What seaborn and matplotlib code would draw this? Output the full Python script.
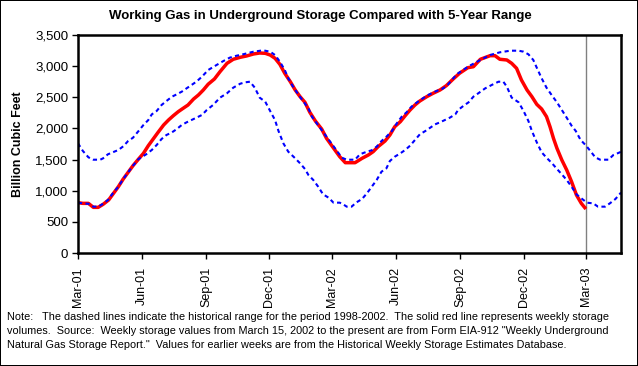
import pandas as pd
import matplotlib
matplotlib.use("Agg")
import matplotlib.pyplot as plt
import matplotlib.dates as mdates
import seaborn as sns

# --- Data (Bcf) ---
upper_dates = ["2001-03-01", "2001-03-08", "2001-03-16", "2001-03-23", "2001-04-02", "2001-04-06",
               "2001-04-13", "2001-04-20", "2001-04-28", "2001-05-05", "2001-05-12", "2001-05-19",
               "2001-05-27", "2001-06-03", "2001-06-10", "2001-06-15", "2001-06-22", "2001-06-29",
               "2001-07-06", "2001-07-14", "2001-07-21", "2001-07-28", "2001-08-04", "2001-08-11",
               "2001-08-18", "2001-08-26", "2001-09-04", "2001-09-16", "2001-09-26", "2001-10-05",
               "2001-10-15", "2001-10-24", "2001-11-08", "2001-11-22", "2001-12-02", "2001-12-09",
               "2001-12-16", "2001-12-23", "2001-12-28", "2002-01-04", "2002-01-12", "2002-01-19",
               "2002-01-26", "2002-01-31", "2002-02-07", "2002-02-14", "2002-02-21", "2002-02-28",
               "2002-03-08", "2002-03-15", "2002-03-22", "2002-04-03", "2002-04-10", "2002-04-20",
               "2002-04-27", "2002-05-04", "2002-05-11", "2002-05-18", "2002-05-26", "2002-06-02",
               "2002-06-09", "2002-06-16", "2002-06-23", "2002-07-01", "2002-07-08", "2002-07-15",
               "2002-07-22", "2002-07-29", "2002-08-06", "2002-08-13", "2002-08-20", "2002-08-27",
               "2002-09-03", "2002-09-13", "2002-09-30", "2002-10-14", "2002-10-28", "2002-11-12",
               "2002-11-24", "2002-12-01", "2002-12-08", "2002-12-15", "2002-12-20", "2002-12-27",
               "2003-01-03", "2003-01-11", "2003-01-18", "2003-01-25", "2003-02-01", "2003-02-08",
               "2003-02-14", "2003-02-21", "2003-02-28", "2003-03-07", "2003-03-14", "2003-03-21",
               "2003-04-02", "2003-04-09", "2003-04-16", "2003-04-20"]
upper_vals = [1761, 1638, 1536, 1498, 1498, 1520,
              1585, 1617, 1654, 1713, 1798, 1851,
              1959, 2055, 2135, 2226, 2280, 2376,
              2440, 2510, 2548, 2590, 2644, 2697,
              2750, 2830, 2938, 3018, 3083, 3136,
              3168, 3190, 3232, 3254, 3232, 3179,
              3072, 2938, 2805, 2670, 2537, 2429,
              2323, 2189, 2082, 1975, 1867, 1761,
              1638, 1530, 1498, 1498, 1585, 1627,
              1649, 1707, 1798, 1867, 1959, 2082,
              2189, 2259, 2349, 2419, 2472, 2526,
              2564, 2601, 2633, 2686, 2777, 2869,
              2922, 2997, 3099, 3179, 3222, 3248,
              3248, 3232, 3190, 3099, 2975, 2805,
              2654, 2526, 2419, 2296, 2172, 2044,
              1959, 1814, 1734, 1638, 1536, 1498,
              1498, 1573, 1605, 1625]

lower_dates = ["2001-03-01", "2001-03-08", "2001-03-16", "2001-03-23", "2001-03-30", "2001-04-06",
               "2001-04-13", "2001-04-20", "2001-04-28", "2001-05-05", "2001-05-12", "2001-05-19",
               "2001-05-27", "2001-06-07", "2001-06-15", "2001-06-22", "2001-06-29", "2001-07-06",
               "2001-07-14", "2001-07-21", "2001-07-28", "2001-08-04", "2001-08-11", "2001-08-18",
               "2001-08-26", "2001-09-02", "2001-09-11", "2001-09-21", "2001-10-01", "2001-10-10",
               "2001-10-20", "2001-10-27", "2001-11-03", "2001-11-10", "2001-11-17", "2001-11-25",
               "2001-12-02", "2001-12-09", "2001-12-14", "2001-12-21", "2001-12-28", "2002-01-07",
               "2002-01-14", "2002-01-21", "2002-01-26", "2002-02-02", "2002-02-09", "2002-02-16",
               "2002-02-24", "2002-03-03", "2002-03-12", "2002-03-17", "2002-03-22", "2002-03-29",
               "2002-04-05", "2002-04-13", "2002-04-20", "2002-04-27", "2002-05-04", "2002-05-11",
               "2002-05-18", "2002-05-23", "2002-05-30", "2002-06-07", "2002-06-14", "2002-06-21",
               "2002-06-28", "2002-07-05", "2002-07-13", "2002-07-20", "2002-07-27", "2002-08-03",
               "2002-08-10", "2002-08-17", "2002-08-25", "2002-08-29", "2002-09-06", "2002-09-13",
               "2002-09-20", "2002-09-27", "2002-10-07", "2002-10-19", "2002-10-26", "2002-11-02",
               "2002-11-07", "2002-11-14", "2002-11-24", "2002-12-01", "2002-12-08", "2002-12-13",
               "2002-12-20", "2002-12-27", "2003-01-03", "2003-01-11", "2003-01-18", "2003-01-25",
               "2003-02-01", "2003-02-08", "2003-02-15", "2003-02-22", "2003-03-02", "2003-03-11",
               "2003-03-18", "2003-03-28", "2003-04-04", "2003-04-12", "2003-04-20"]
lower_vals = [808, 797, 790, 744, 744, 790,
              851, 958, 1065, 1188, 1295, 1402,
              1509, 1585, 1654, 1734, 1830, 1894,
              1937, 1991, 2055, 2098, 2135, 2172,
              2216, 2296, 2376, 2494, 2564, 2654,
              2718, 2740, 2750, 2654, 2494, 2429,
              2280, 2135, 1959, 1761, 1627, 1520,
              1440, 1349, 1252, 1172, 1065, 942,
              888, 808, 808, 781, 744, 744,
              813, 867, 958, 1065, 1172, 1306,
              1359, 1477, 1546, 1600, 1654, 1723,
              1814, 1905, 1959, 2012, 2066, 2098,
              2135, 2172, 2226, 2296, 2365, 2419,
              2510, 2564, 2644, 2713, 2750, 2750,
              2670, 2494, 2419, 2280, 2119, 1959,
              1777, 1617, 1530, 1440, 1349, 1263,
              1172, 1065, 942, 878, 808, 797,
              744, 744, 797, 867, 970]

storage_dates = ["2001-03-01", "2001-03-08", "2001-03-16", "2001-03-23", "2001-03-30", "2001-04-06",
                 "2001-04-14", "2001-04-21", "2001-04-28", "2001-05-05", "2001-05-12", "2001-05-19",
                 "2001-05-27", "2001-06-03", "2001-06-10", "2001-06-17", "2001-06-24", "2001-07-02",
                 "2001-07-09", "2001-07-16", "2001-07-23", "2001-07-30", "2001-08-06", "2001-08-14",
                 "2001-08-21", "2001-08-28", "2001-09-04", "2001-09-13", "2001-09-21", "2001-10-01",
                 "2001-10-10", "2001-10-20", "2001-10-29", "2001-11-08", "2001-11-17", "2001-11-25",
                 "2001-12-02", "2001-12-09", "2001-12-16", "2001-12-23", "2001-12-31", "2002-01-07",
                 "2002-01-14", "2002-01-21", "2002-01-28", "2002-02-05", "2002-02-14", "2002-02-21",
                 "2002-03-05", "2002-03-12", "2002-03-20", "2002-04-03", "2002-04-13", "2002-04-22",
                 "2002-04-29", "2002-05-06", "2002-05-16", "2002-05-23", "2002-05-30", "2002-06-07",
                 "2002-06-14", "2002-06-21", "2002-06-28", "2002-07-05", "2002-07-15", "2002-07-24",
                 "2002-08-03", "2002-08-12", "2002-08-22", "2002-08-31", "2002-09-12", "2002-09-20",
                 "2002-09-30", "2002-10-14", "2002-10-21", "2002-10-28", "2002-11-07", "2002-11-14",
                 "2002-11-21", "2002-11-28", "2002-12-06", "2002-12-13", "2002-12-20", "2002-12-27",
                 "2003-01-03", "2003-01-08", "2003-01-13", "2003-01-18", "2003-01-25", "2003-02-01",
                 "2003-02-08", "2003-02-15", "2003-02-22", "2003-02-27"]
storage_vals = [808, 797, 797, 733, 733, 781,
                851, 958, 1065, 1188, 1295, 1402,
                1509, 1600, 1723, 1830, 1937, 2055,
                2135, 2205, 2269, 2323, 2376, 2472,
                2537, 2617, 2710, 2794, 2911, 3045,
                3110, 3142, 3163, 3195, 3211, 3206,
                3179, 3126, 3029, 2885, 2750, 2617,
                2510, 2419, 2259, 2119, 1991, 1841,
                1654, 1546, 1450, 1450, 1520, 1573,
                1627, 1707, 1798, 1894, 2028, 2108,
                2205, 2296, 2376, 2440, 2510, 2564,
                2617, 2686, 2794, 2885, 2975, 2991,
                3110, 3168, 3168, 3110, 3099, 3045,
                2965, 2777, 2617, 2510, 2387, 2312,
                2189, 2028, 1841, 1681, 1493, 1333,
                1145, 931, 797, 728]

note_lines = [
    "Note:   The dashed lines indicate the historical range for the period 1998-2002.  "
    "The solid red line represents weekly storage",
    "volumes.  Source:  Weekly storage values from March 15, 2002 to the present are from "
    "Form EIA-912 \"Weekly Underground",
    "Natural Gas Storage Report.\"  Values for earlier weeks are from the Historical Weekly "
    "Storage Estimates Database.",
]

upper = pd.DataFrame({"date": pd.to_datetime(upper_dates), "bcf": upper_vals})
lower = pd.DataFrame({"date": pd.to_datetime(lower_dates), "bcf": lower_vals})
storage = pd.DataFrame({"date": pd.to_datetime(storage_dates), "bcf": storage_vals})

# --- Plot ---
plt.rcParams["font.family"] = ["Liberation Sans", "DejaVu Sans"]
fig = plt.figure(figsize=(6.38, 3.66), dpi=100, linewidth=1.4, edgecolor="black")
ax = fig.add_axes([78 / 638, 1 - 253 / 366, (621 - 78) / 638, (253 - 35) / 366])

sns.lineplot(data=storage, x="date", y="bcf", ax=ax, color="#ff0000", linewidth=2.5)
sns.lineplot(data=upper, x="date", y="bcf", ax=ax, color="#0000ff", linewidth=1.5,
             linestyle=(0, (2, 1.6)))
sns.lineplot(data=lower, x="date", y="bcf", ax=ax, color="#0000ff", linewidth=1.5,
             linestyle=(0, (2, 1.6)))
ax.axvline(pd.Timestamp("2003-03-01"), color="#808080", linewidth=1, zorder=1)

ax.set_xlim(pd.Timestamp("2001-03-01"), pd.Timestamp("2003-04-20"))
ax.set_ylim(0, 3500)
ax.set_yticks(range(0, 3501, 500))
ax.yaxis.set_major_formatter(matplotlib.ticker.FuncFormatter(lambda v, p: f"{int(v):,}"))
ax.xaxis.set_major_locator(mdates.MonthLocator(bymonth=[3, 6, 9, 12]))
ax.xaxis.set_major_formatter(mdates.DateFormatter("%b-%y"))
ax.tick_params(axis="x", labelrotation=90, length=4, width=1, labelsize=9, pad=6)
ax.tick_params(axis="y", length=4, width=1, labelsize=9.5, pad=3)
for s in ax.spines.values():
    s.set_linewidth(1.8)
ax.set_xlabel("")
ax.set_ylabel("Billion Cubic Feet", fontsize=9, fontweight="bold", labelpad=8)

fig.text(320 / 638, 1 - 16 / 366, "Working Gas in Underground Storage Compared with 5-Year Range",
         ha="center", va="center", fontsize=9.5, fontweight="bold")

for i, line in enumerate(note_lines):
    fig.text(7 / 638, 1 - (316.5 + 14.5 * i) / 366, line, ha="left", va="center", fontsize=7.8)

fig.savefig("out.png", dpi=100)
